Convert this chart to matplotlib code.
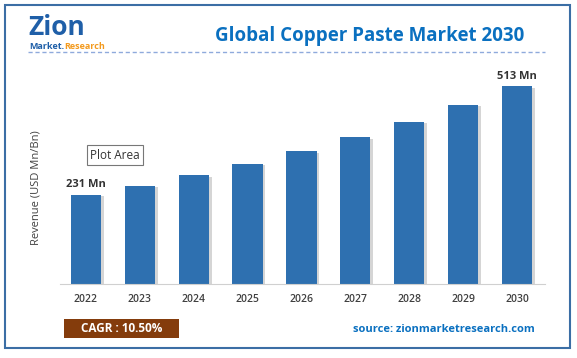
import matplotlib.pyplot as plt
import matplotlib.patheffects as pe
from matplotlib.patches import Rectangle
from matplotlib.text import Annotation

years = ['2022', '2023', '2024', '2025', '2026', '2027', '2028', '2029', '2030']
revenue = [231, 255, 282, 312, 344, 380, 420, 464, 513]
labelled = {0: '231 Mn', 8: '513 Mn'}

W, H = 577, 358
fig = plt.figure(figsize=(W / 100, H / 100), dpi=100)
plt.rcParams['font.family'] = ['Open Sans', 'DejaVu Sans']


def fx(px):
    return px / W


def fy(py):
    return 1 - py / H


# outer frame
fig.patches.append(Rectangle((fx(5), fy(348)), fx(565), 343 / H, transform=fig.transFigure,
                             fill=False, edgecolor='#3b6ea5', linewidth=1.5))

# logo (approximation)
fig.text(fx(28), fy(35), 'Zion', fontsize=19, fontweight='bold', color='#1f5fa8', va='baseline')
mk = fig.text(fx(29), fy(49), 'Market.', fontsize=6.5, fontweight='bold', color='#1f5fa8',
              va='baseline')
fig.add_artist(Annotation('Research', xy=(1, 0), xycoords=mk, fontsize=6.5, fontweight='bold',
                          color='#f39a1e', va='bottom'))
fig.lines.append(plt.Line2D([fx(28), fx(545)], [fy(52), fy(52)], transform=fig.transFigure,
                            color='#8faadc', linestyle=(0, (3, 2)), linewidth=1))

fig.text(fx(370), fy(36), 'Global Copper Paste Market 2030', fontsize=13.5, fontweight='bold',
         color='#0a70c0', ha='center', va='center')

ax = fig.add_axes([fx(60), fy(284), fx(485), (284 - 70) / H])
x = range(len(years))
bars = ax.bar(x, revenue, width=0.56, color='#2e70b0')
for b in bars:
    b.set_path_effects([pe.SimplePatchShadow(offset=(2, -1), shadow_rgbFace='#777777', alpha=0.3),
                        pe.Normal()])
for i, txt in labelled.items():
    ax.text(i, revenue[i] + 12, txt, ha='center', va='bottom', fontsize=8,
            fontweight='bold', color='#333333')

ax.set_xlim(-0.48, 8.52)
ax.set_ylim(0, 555)
ax.set_xticks(list(x))
ax.set_xticklabels(years, fontsize=7.5, fontweight='semibold', color='#404040')
ax.tick_params(axis='x', length=0, pad=7)
ax.set_yticks([])
for s in ['top', 'right', 'left']:
    ax.spines[s].set_visible(False)
ax.spines['bottom'].set_color('#d0d0d0')

fig.text(fx(36), fy(188), 'Revenue (USD Mn/Bn)', rotation=90, fontsize=8,
         color='#404040', ha='center', va='center')

# "Plot Area" tooltip box
fig.text(fx(115), fy(155), 'Plot Area', fontsize=8.5, color='#333333', ha='center', va='center',
         bbox=dict(boxstyle='square,pad=0.3', facecolor='white', edgecolor='#777777', linewidth=0.8))

# footer
fig.patches.append(Rectangle((fx(64), fy(338)), fx(115), 19 / H, transform=fig.transFigure,
                             facecolor='#843c0c', edgecolor='none'))
fig.text(fx(121.5), fy(328.5), 'CAGR : 10.50%', fontsize=8.5, fontweight='bold', color='white',
         ha='center', va='center')
fig.text(fx(444), fy(329), 'source: zionmarketresearch.com', fontsize=8, fontweight='bold',
         color='#0a70c0', ha='center', va='center')

fig.savefig('out.png', dpi=100)
